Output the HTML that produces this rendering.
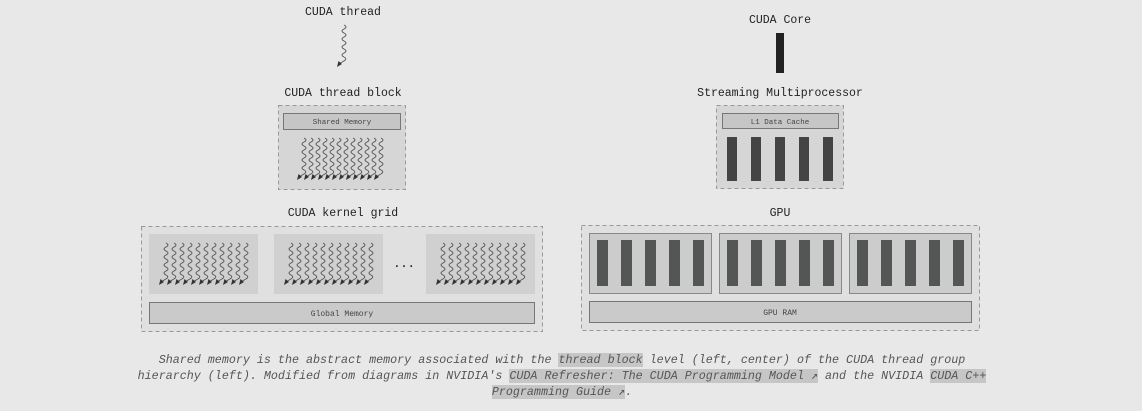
<!DOCTYPE html>
<html><head><meta charset="utf-8"><style>
html,body{margin:0;padding:0;background:#e8e8e8;}
body{width:1142px;height:411px;position:relative;overflow:hidden;font-family:"Liberation Mono","DejaVu Sans Mono",monospace;}
svg{position:absolute;left:0;top:0;}
.cap{position:absolute;left:0;width:1124px;top:352px;text-align:center;font-style:italic;font-size:11.7px;line-height:16px;color:#555;}
.hl{background:#c6c6c6;}
</style></head><body>
<svg width="1142" height="411" viewBox="0 0 1142 411" font-family="Liberation Mono, DejaVu Sans Mono, monospace">
<defs>
<g id="sq">
<path d="M6,0 q4,2 0,4 q-4,2 0,4 q4,2 0,4 q-4,2 0,4 q4,2 0,4 q-4,2 0,4 q4,2 0,4 q-4,2 0,4 q4,2 -1,4.5 L1,39" fill="none" stroke="#555" stroke-width="0.9"/>
<polygon points="-1,42 0.5,36 4,39" fill="#333"/>
</g>
</defs>
<g font-size="11.5" fill="#222" text-anchor="middle">
<text x="343" y="15">CUDA thread</text>
<text x="343" y="96">CUDA thread block</text>
<text x="343" y="216">CUDA kernel grid</text>
<text x="780" y="23">CUDA Core</text>
<text x="780" y="96">Streaming Multiprocessor</text>
<text x="780" y="216">GPU</text>
</g>
<use href="#sq" x="338" y="25"/>
<rect x="278.5" y="105.5" width="127" height="84" fill="#d6d6d6" stroke="#999" stroke-dasharray="4,3"/>
<rect x="283.5" y="113.5" width="117" height="16" fill="#c6c6c6" stroke="#777"/>
<text x="342" y="124" font-size="7.5" fill="#444" text-anchor="middle">Shared Memory</text>
<g>
<use href="#sq" x="298" y="138"/><use href="#sq" x="305" y="138"/><use href="#sq" x="312" y="138"/><use href="#sq" x="319" y="138"/><use href="#sq" x="326" y="138"/><use href="#sq" x="333" y="138"/><use href="#sq" x="340" y="138"/><use href="#sq" x="347" y="138"/><use href="#sq" x="354" y="138"/><use href="#sq" x="361" y="138"/><use href="#sq" x="368" y="138"/><use href="#sq" x="375" y="138"/>
</g>
<rect x="141.5" y="226.5" width="401" height="105" fill="#e0e0e0" stroke="#999" stroke-dasharray="4,3"/>
<rect x="149" y="234" width="109" height="60" fill="#d0d0d0"/>
<rect x="274" y="234" width="109" height="60" fill="#d0d0d0"/>
<rect x="426" y="234" width="109" height="60" fill="#d0d0d0"/>
<g id="g1">
<use href="#sq" x="160" y="243"/><use href="#sq" x="168" y="243"/><use href="#sq" x="176" y="243"/><use href="#sq" x="184" y="243"/><use href="#sq" x="192" y="243"/><use href="#sq" x="200" y="243"/><use href="#sq" x="208" y="243"/><use href="#sq" x="216" y="243"/><use href="#sq" x="224" y="243"/><use href="#sq" x="232" y="243"/><use href="#sq" x="240" y="243"/>
</g>
<use href="#g1" x="125"/>
<use href="#g1" x="277"/>
<text x="404" y="267" font-size="12" font-weight="bold" fill="#333" text-anchor="middle">...</text>
<rect x="149.5" y="302.5" width="385" height="21" fill="#cacaca" stroke="#777"/>
<text x="342" y="316" font-size="8" fill="#444" text-anchor="middle">Global Memory</text>
<rect x="776" y="33" width="8" height="40" fill="#222"/>
<rect x="716.5" y="105.5" width="127" height="83" fill="#d6d6d6" stroke="#999" stroke-dasharray="4,3"/>
<rect x="722.5" y="113.5" width="116" height="15" fill="#c6c6c6" stroke="#777"/>
<text x="780" y="124" font-size="7.5" fill="#444" text-anchor="middle">L1 Data Cache</text>
<g fill="#444">
<rect x="727" y="137" width="10" height="44"/><rect x="751" y="137" width="10" height="44"/><rect x="775" y="137" width="10" height="44"/><rect x="799" y="137" width="10" height="44"/><rect x="823" y="137" width="10" height="44"/>
</g>
<rect x="581.5" y="225.5" width="398" height="105" fill="#e0e0e0" stroke="#999" stroke-dasharray="4,3"/>
<g id="sm">
<rect x="589.5" y="233.5" width="122" height="60" fill="#cccccc" stroke="#888"/>
<g fill="#545656">
<rect x="597" y="240" width="11" height="46"/><rect x="621" y="240" width="11" height="46"/><rect x="645" y="240" width="11" height="46"/><rect x="669" y="240" width="11" height="46"/><rect x="693" y="240" width="11" height="46"/>
</g>
</g>
<use href="#sm" x="130"/>
<use href="#sm" x="260"/>
<rect x="589.5" y="301.5" width="382" height="21" fill="#cacaca" stroke="#777"/>
<text x="780" y="315" font-size="8" fill="#444" text-anchor="middle">GPU RAM</text>
</svg>
<div class="cap">Shared memory is the abstract memory associated with the <span class="hl">thread block</span> level (left, center) of the CUDA thread group<br>hierarchy (left). Modified from diagrams in NVIDIA's <span class="hl">CUDA Refresher: The CUDA Programming Model ↗</span> and the NVIDIA <span class="hl">CUDA C++</span><br><span class="hl">Programming Guide ↗</span>.</div>
</body></html>
